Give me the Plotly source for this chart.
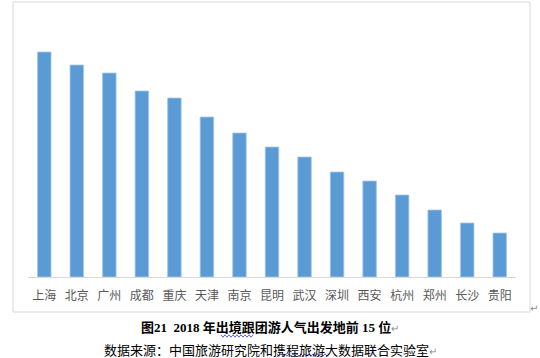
import plotly.graph_objects as go

cities = ["上海", "北京", "广州", "成都", "重庆", "天津", "南京", "昆明",
          "武汉", "深圳", "西安", "杭州", "郑州", "长沙", "贵阳"]
values = [225, 212, 204, 186, 179, 160, 144, 130, 120, 105, 96, 82, 67, 54, 44]

W, H = 540, 358

def px(x):
    return x / W

def py(y):
    return 1 - y / H

fig = go.Figure()
fig.add_trace(go.Bar(
    x=cities, y=values,
    marker=dict(color="#5B9BD5", line=dict(color="#A5C6E8", width=0.8)),
    hoverinfo="x+y",
))

def wavy(x0, x1, y, amp=1.2, step=2.0):
    pts = []
    x = x0
    up = True
    while x <= x1:
        pts.append((x, y - amp if up else y + amp))
        up = not up
        x += step
    d = "M " + " L ".join(f"{px(a):.5f},{py(b):.5f}" for a, b in pts)
    return dict(type="path", path=d, xref="paper", yref="paper",
                line=dict(color="#3A3AD0", width=0.8))

fig.update_layout(
    width=W, height=H,
    margin=dict(l=0, r=0, t=0, b=0),
    paper_bgcolor="white", plot_bgcolor="white",
    showlegend=False,
    bargap=0.585,
    xaxis=dict(domain=[px(28), px(516)], showline=True, linecolor="#D9D9D9",
               linewidth=1, ticks="", showgrid=False, zeroline=False,
               tickfont=dict(family="Noto Sans CJK SC", size=12, color="#595959"),
               ticklabelstandoff=8, fixedrange=True, automargin=False),
    yaxis=dict(domain=[py(277), py(20)], range=[0, 257], visible=False,
               showgrid=False, zeroline=False, fixedrange=True),
    shapes=[
        dict(type="rect", xref="paper", yref="paper",
             x0=px(13), x1=px(530), y0=py(312), y1=py(2),
             line=dict(color="#D9D9D9", width=1), fillcolor="rgba(0,0,0,0)",
             layer="below"),
        wavy(221, 254, 336),
        wavy(277, 329, 355),
    ],
    annotations=[
        dict(text="↵", x=px(534), y=py(308), xref="paper", yref="paper",
             yanchor="middle", xanchor="center",
             showarrow=False, font=dict(size=10, color="#8C8C8C",
                                        family="DejaVu Sans")),
        dict(text="<b>图21  2018 年出境跟团游人气出发地前 15 位</b>"
                  "<span style='color:#8C8C8C;font-size:10px'>↵</span>",
             x=px(270), y=py(327), xref="paper", yref="paper", showarrow=False,
             yanchor="middle", xanchor="center",
             font=dict(family="Liberation Serif, Noto Sans CJK SC", size=13,
                       color="black")),
        dict(text="数据来源：中国旅游研究院和携程旅游大数据联合实验室"
                  "<span style='color:#8C8C8C;font-size:10px'>↵</span>",
             x=px(270), y=py(349), xref="paper", yref="paper", showarrow=False,
             yanchor="middle", xanchor="center",
             font=dict(family="Noto Sans CJK SC", size=13, color="black")),
    ],
)

fig.write_html("out.html", config={"displayModeBar": False},
               post_script="document.body.style.margin='0';document.body.style.overflow='hidden';")
